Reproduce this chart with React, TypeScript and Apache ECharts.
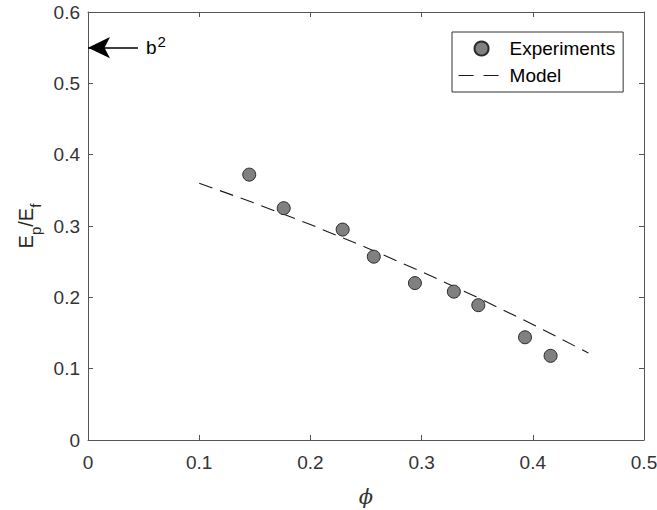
import React, { useEffect, useRef } from "react";
import * as echarts from "echarts";

// Experimental data (phi, Ep/Ef)
const phiExp = [0.145, 0.176, 0.229, 0.257, 0.294, 0.329, 0.351, 0.393, 0.416];
const ratioExp = [0.372, 0.325, 0.295, 0.257, 0.22, 0.208, 0.189, 0.144, 0.118];

// Model curve
const phiModel = [0.1, 0.15, 0.2, 0.25, 0.3, 0.35, 0.4, 0.45];
const ratioModel = [0.36, 0.332, 0.302, 0.27, 0.236, 0.2, 0.162, 0.122];

// b^2 arrow annotation
const arrowPhi = [0.045, 0];
const arrowRatio = 0.55;

// Axis ticks
const xTicks = { min: 0, max: 0.5, interval: 0.1 };
const yTicks = { min: 0, max: 0.6, interval: 0.1 };

const FONT = "'Liberation Sans', Arial, Helvetica, sans-serif";
const AXIS_COLOR = "#555";
const LABEL_COLOR = "#333";

export default function App() {
  const ref = useRef<HTMLDivElement>(null);

  useEffect(() => {
    if (!ref.current) return;
    const chart = echarts.init(ref.current, null, { renderer: "svg" });

    const expData = phiExp.map((p, i) => [p, ratioExp[i]]);
    const modelData = phiModel.map((p, i) => [p, ratioModel[i]]);

    const boxAxisCommon = {
      axisLine: { show: true, onZero: false, lineStyle: { color: AXIS_COLOR, width: 1 } },
      axisTick: { show: true, inside: true, length: 5, lineStyle: { color: AXIS_COLOR } },
      splitLine: { show: false },
    };

    chart.setOption({
      animation: false,
      grid: {
        left: 88,
        right: 13,
        top: 12,
        bottom: 70,
        containLabel: false,
        outerBoundsMode: "none",
      },
      legend: {
        orient: "vertical",
        left: 452,
        top: 32,
        padding: [7, 8, 7, 6],
        itemGap: 8,
        itemWidth: 46,
        itemHeight: 14,
        borderColor: "#333",
        borderWidth: 1,
        backgroundColor: "#fff",
        textStyle: { fontSize: 19, color: "#000", fontFamily: FONT },
        data: [
          { name: "Experiments" },
          {
            name: "Model",
            lineStyle: { type: [15, 10], width: 1.1, color: "#1a1a1a" },
            itemStyle: { opacity: 0 },
          },
        ],
      },
      xAxis: [
        {
          type: "value",
          position: "bottom",
          ...xTicks,
          ...boxAxisCommon,
          axisLabel: {
            show: true,
            fontSize: 19,
            color: LABEL_COLOR,
            fontFamily: FONT,
            margin: 13,
            showMinLabel: true,
            showMaxLabel: true,
          },
          name: "ϕ",
          nameLocation: "middle",
          nameGap: 46,
          nameTextStyle: {
            fontSize: 21,
            fontStyle: "italic",
            color: LABEL_COLOR,
            fontFamily: "'DejaVu Serif', 'Liberation Serif', serif",
          },
        },
        {
          type: "value",
          position: "top",
          ...xTicks,
          ...boxAxisCommon,
          axisLabel: { show: false },
        },
      ],
      yAxis: [
        {
          type: "value",
          position: "left",
          ...yTicks,
          ...boxAxisCommon,
          axisLabel: {
            show: true,
            fontSize: 19,
            color: LABEL_COLOR,
            fontFamily: FONT,
            margin: 8,
            showMinLabel: true,
            showMaxLabel: true,
          },
          name: "{n|E}{s|p}{n|/E}{s|f}",
          nameLocation: "middle",
          nameGap: 40,
          nameRotate: 90,
          nameTextStyle: {
            color: "#262626",
            fontFamily: FONT,
            rich: {
              n: { fontSize: 20, color: "#262626", fontFamily: FONT },
              s: { fontSize: 15, color: "#262626", fontFamily: FONT, padding: [18, 0, 0, 0] },
            },
          },
        },
        {
          type: "value",
          position: "right",
          ...yTicks,
          ...boxAxisCommon,
          axisLabel: { show: false },
        },
      ],
      series: [
        {
          name: "Model",
          type: "line",
          data: modelData,
          symbol: "none",
          showSymbol: false,
          silent: true,
          lineStyle: { type: [14, 8], width: 1.1, color: "#1a1a1a" },
          itemStyle: { color: "#1a1a1a" },
          z: 2,
        },
        {
          name: "Experiments",
          type: "scatter",
          data: expData,
          symbol: "circle",
          symbolSize: 13,
          itemStyle: { color: "#808080", borderColor: "#2a2a2a", borderWidth: 1, opacity: 1 },
          z: 3,
          markLine: {
            silent: true,
            animation: false,
            lineStyle: { color: "#000", width: 1.5, type: "solid" },
            label: {
              show: true,
              position: "start",
              distance: 8,
              formatter: "{b|b}{sup|2}",
              rich: {
                b: { fontSize: 19, color: "#000", fontFamily: FONT },
                sup: { fontSize: 15, color: "#000", fontFamily: FONT, padding: [0, 0, 12, 1] },
              },
            },
            emphasis: { disabled: true },
            data: [
              [
                { coord: [arrowPhi[0], arrowRatio], symbol: "none" },
                { coord: [arrowPhi[1], arrowRatio], symbol: "arrow", symbolSize: [16, 22] },
              ],
            ],
          },
        },
      ],
    });

    return () => chart.dispose();
  }, []);

  return (
    <div
      ref={ref}
      style={{ position: "fixed", left: 0, top: 0, width: 657, height: 510, background: "#fff" }}
    />
  );
}
